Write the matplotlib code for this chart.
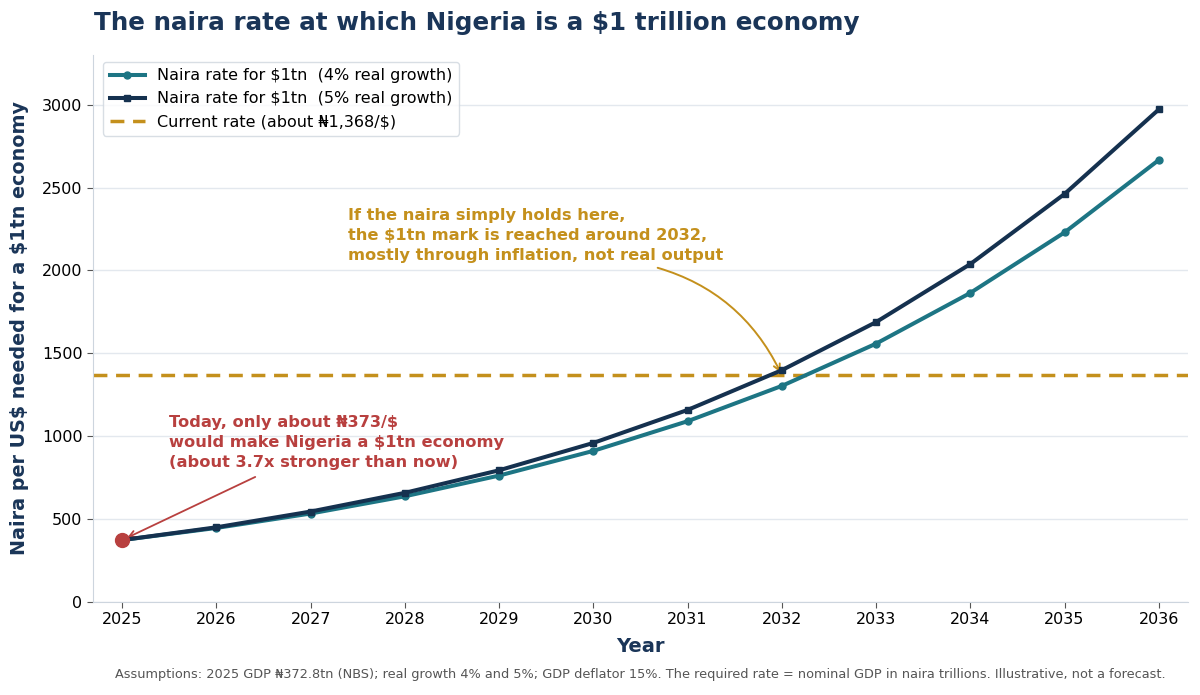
import matplotlib
matplotlib.use("Agg")
import matplotlib.pyplot as plt

# ---------------------------------------------------------------- DATA
years = [2025, 2026, 2027, 2028, 2029, 2030, 2031, 2032, 2033, 2034, 2035, 2036]
rate_4pct = [373, 446, 533, 637, 762, 911, 1090, 1303, 1558, 1864, 2229, 2666]
rate_5pct = [373, 450, 545, 658, 794, 959, 1158, 1398, 1688, 2038, 2461, 2971]
current_rate = 1368
today_rate = 373

# ---------------------------------------------------------------- STYLE
TEAL = "#1d7584"
NAVY = "#15314f"
GOLD = "#c4901c"
RED = "#b8403f"
TITLE = "#1a3558"
GRID = "#e3e8ee"
SPINE = "#cdd5de"

plt.rcParams["font.family"] = ["DejaVu Sans"]

fig = plt.figure(figsize=(12, 6.95), dpi=100)
ax = fig.add_axes([0.0775, 0.134, 0.9125, 0.787])

ax.plot(years, rate_4pct, color=TEAL, lw=2.9, marker="o", markersize=5,
        label=r"Naira rate for \$1tn  (4% real growth)", zorder=3)
ax.plot(years, rate_5pct, color=NAVY, lw=2.9, marker="s", markersize=5,
        label=r"Naira rate for \$1tn  (5% real growth)", zorder=4)
ax.axhline(current_rate, color=GOLD, lw=2.5, ls=(0, (4, 2.5)),
           label=r"Current rate (about ₦1,368/\$)", zorder=2)
ax.plot([years[0]], [today_rate], "o", color=RED, markersize=10, zorder=5)

ax.set_xlim(2024.69, 2036.31)
ax.set_ylim(0, 3300)
ax.set_xticks(years)
ax.set_yticks([0, 500, 1000, 1500, 2000, 2500, 3000])
ax.tick_params(labelsize=11.5, color="#555555", length=4)

ax.grid(axis="y", color=GRID, lw=1)
ax.set_axisbelow(True)
for s in ["top", "right"]:
    ax.spines[s].set_visible(False)
for s in ["left", "bottom"]:
    ax.spines[s].set_color(SPINE)

ax.set_xlabel("Year", fontsize=14, fontweight="bold", color=TITLE, labelpad=7)
ax.set_ylabel(r"Naira per US\$ needed for a \$1tn economy", fontsize=13.8,
              fontweight="bold", color=TITLE, labelpad=9)

ax.text(0.001, 1.0585, r"The naira rate at which Nigeria is a \$1 trillion economy",
        transform=ax.transAxes, fontsize=17.7, fontweight="bold", color=TITLE,
        ha="left", va="center")

leg = ax.legend(loc="upper left", fontsize=11.5, frameon=True, fancybox=True,
                borderpad=0.4, handlelength=2.2, bbox_to_anchor=(0.002, 1.002))
leg.get_frame().set_edgecolor("#cfd6de")

ax.annotate("If the naira simply holds here,\nthe \\$1tn mark is reached around 2032,\n"
            "mostly through inflation, not real output",
            xy=(2032, current_rate), xytext=(2027.4, 2375),
            ha="left", va="top", fontsize=11.7, fontweight="bold", color=GOLD,
            linespacing=1.4,
            arrowprops=dict(arrowstyle="->", color=GOLD, lw=1.4,
                            connectionstyle="arc3,rad=-0.25",
                            relpos=(0.77, 0.0), shrinkA=6, shrinkB=2))

ax.annotate("Today, only about ₦373/\\$\nwould make Nigeria a \\$1tn economy\n"
            "(about 3.7x stronger than now)",
            xy=(years[0], today_rate), xytext=(2025.5, 1125),
            ha="left", va="top", fontsize=11.7, fontweight="bold", color=RED,
            linespacing=1.4,
            arrowprops=dict(arrowstyle="->", color=RED, lw=1.3,
                            relpos=(0.3, 0.0), shrinkA=7, shrinkB=4))

fig.text(0.534, 0.029,
         "Assumptions: 2025 GDP ₦372.8tn (NBS); real growth 4% and 5%; GDP deflator 15%. "
         "The required rate = nominal GDP in naira trillions. Illustrative, not a forecast.",
         ha="center", va="center", fontsize=9.3, color="#555555")

fig.savefig("out.png", dpi=100)
